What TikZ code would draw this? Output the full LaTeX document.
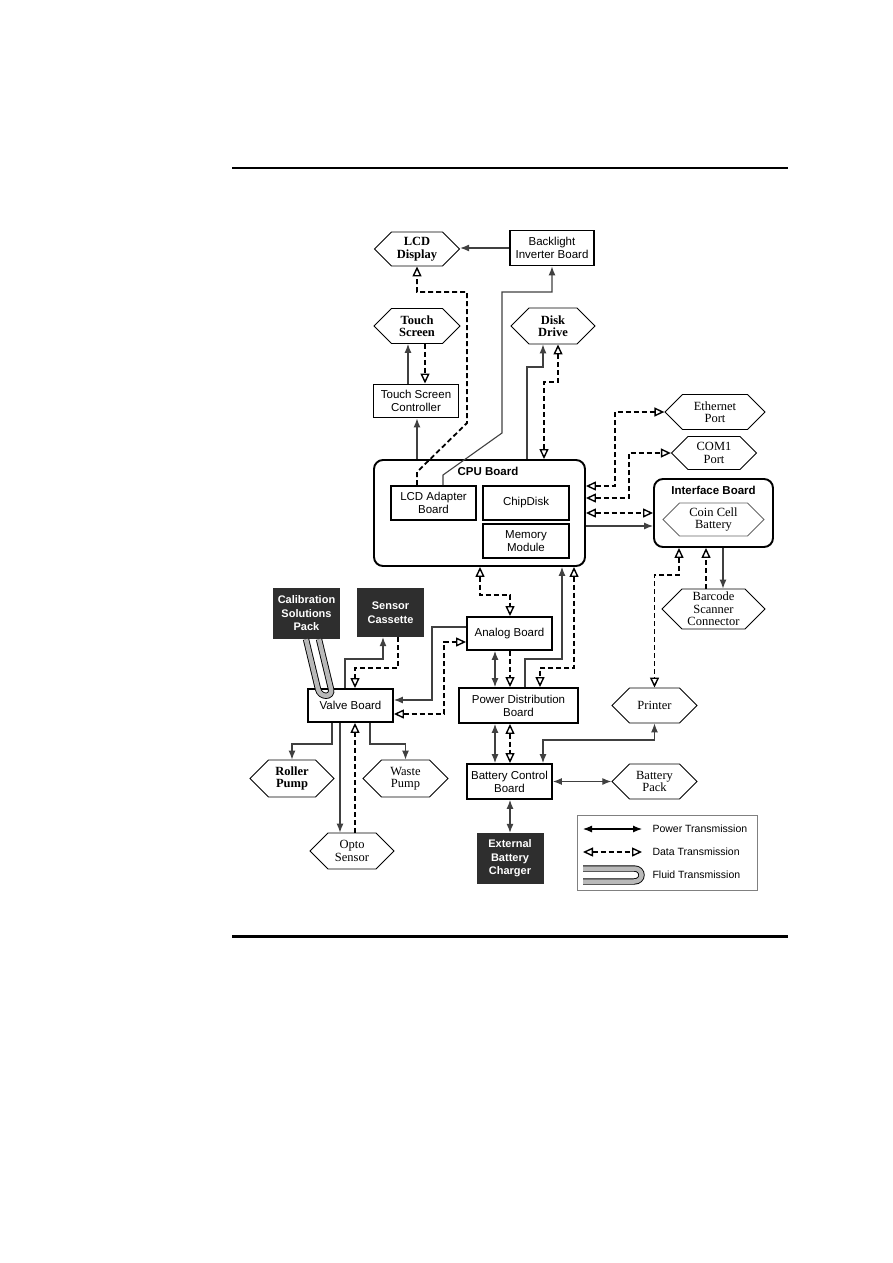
\documentclass[tikz,border=0pt]{standalone}
\usepackage{fontspec}
\setmainfont{Liberation Serif}
\setsansfont{Liberation Sans}
\usetikzlibrary{arrows.meta,shapes.symbols}

\begin{document}
\begin{tikzpicture}[x=1pt, y=-1pt,
  bx/.style={draw, line width=1.9pt, align=center, inner sep=1pt,
             font=\sffamily\fontsize{11.5}{13}\selectfont},
  rb/.style={draw, line width=1.9pt, rounded corners=9pt},
  hx/.style={draw, line width=0.9pt, shape=signal, signal to=west and east,
             signal pointer angle=90, align=center, inner sep=1pt,
             font=\fontsize{12.5}{12.5}\selectfont},
  hxb/.style={hx, font=\bfseries\fontsize{12.5}{12.5}\selectfont},
  blk/.style={fill=black!82, text=white, align=center, minimum width=67pt,
              minimum height=50pt, font=\sffamily\bfseries\fontsize{11}{13.5}\selectfont},
  ttl/.style={font=\sffamily\bfseries\fontsize{11.5}{13}\selectfont},
  lgt/.style={anchor=west, font=\sffamily\fontsize{10.5}{12}\selectfont},
  pw/.style={draw=black!75, line width=1.1pt},
  dt/.style={draw=black, line width=1.8pt, dash pattern=on 5pt off 3pt},
  pw1/.style={pw, -{Latex[length=9pt,width=7pt]}},
  pw2/.style={pw, {Latex[length=9pt,width=7pt]}-{Latex[length=9pt,width=7pt]}},
  dt1/.style={dt, -{Triangle[open,length=10pt,width=9pt,line width=1.4pt]}},
  dt2/.style={dt, {Triangle[open,length=10pt,width=9pt,line width=1.4pt]}-{Triangle[open,length=10pt,width=9pt,line width=1.4pt]}},
  tube/.style={line width=0.9pt, double=gray!55, double distance=4.5pt}
]
  \useasboundingbox (0,0) rectangle (893,1263);
  \draw[line width=1.5pt] (232,168) -- (788,168);
  \draw[line width=3pt] (232,936) -- (788,936);

  \node[hxb, minimum width=85pt, minimum height=34pt] (lcd) at (417,249) {LCD\\Display};
  \node[bx, minimum width=84pt, minimum height=35pt] (bli) at (552,248) {Backlight\\Inverter Board};
  \node[hxb, minimum width=86pt, minimum height=35pt] (ts) at (417,326) {Touch\\Screen};
  \node[hxb, minimum width=84pt, minimum height=36pt] (dd) at (553,326) {Disk\\Drive};
  \node[bx, minimum width=85pt, minimum height=33pt] (tsc) at (416,401) {Touch Screen\\Controller};
  \node[hx, minimum width=100pt, minimum height=35pt] (eth) at (715,412) {Ethernet\\Port};
  \node[hx, minimum width=85pt, minimum height=33pt] (com) at (714,453) {COM1\\Port};

  \node[rb, minimum width=211pt, minimum height=106pt] (cpu) at (479.5,513) {};
  \node[ttl] (cpulbl) at (488,471) {CPU Board};
  \node[bx, minimum width=85pt, minimum height=34pt] (lad) at (433.5,503) {LCD Adapter\\Board};
  \node[bx, minimum width=86pt, minimum height=34pt] (chip) at (526,503) {ChipDisk};
  \node[bx, minimum width=86pt, minimum height=34pt] (mem) at (526,541) {Memory\\Module};

  \node[rb, minimum width=119pt, minimum height=68pt] (ifb) at (713.5,513) {};
  \node[ttl] (ifblbl) at (713.5,490) {Interface Board};
  \node[hx, draw=black!60, minimum width=101pt, minimum height=33pt] (ccb) at (713.5,519.5) {Coin Cell\\Battery};
  \node[hx, minimum width=103pt, minimum height=40pt] (bsc) at (713.5,609) {Barcode\\Scanner\\Connector};

  \node[blk, minimum height=51pt] (cal) at (306.5,613.5) {Calibration\\Solutions\\Pack};
  \node[blk, minimum height=49pt] (sen) at (390.5,612.5) {Sensor\\Cassette};
  \node[bx, minimum width=85pt, minimum height=33pt] (ana) at (509.5,633.5) {Analog Board};
  \node[bx, minimum width=85pt, minimum height=33pt] (vlv) at (350.5,705.5) {Valve Board};
  \node[bx, minimum width=119pt, minimum height=35pt] (pdb) at (518.5,705.5) {Power Distribution\\Board};
  \node[hx, minimum width=85pt, minimum height=35pt] (prn) at (654.5,705.5) {Printer};
  \node[hxb, minimum width=84pt, minimum height=37pt] (rol) at (292,778.5) {Roller\\Pump};
  \node[hx, minimum width=85pt, minimum height=37pt] (wst) at (405.5,778.5) {Waste\\Pump};
  \node[bx, minimum width=85pt, minimum height=35pt] (bcb) at (509.5,781.5) {Battery Control\\Board};
  \node[hx, minimum width=85pt, minimum height=35pt] (bat) at (654.5,781.5) {Battery\\Pack};
  \node[hx, minimum width=84pt, minimum height=36pt] (opt) at (352,851) {Opto\\Sensor};
  \node[blk, minimum height=51pt] (ext) at (510,858.5) {External\\Battery\\Charger};

  \draw[pw1] (bli.west) -- (bli.west -| lcd.east);
  \draw[pw1] (443,0 |- lad.north) -- (443,475) -- (502,433) -- (502,292) -| (bli.south);
  \draw[dt1] (417,0 |- lad.north) -- (417,472) -- (467,423) -- (467,292) -| (lcd.south);
  \draw[pw1] (408,0 |- tsc.north) -- (408,0 |- ts.south);
  \draw[dt1] (425,0 |- ts.south) -- (425,0 |- tsc.north);
  \draw[pw1] (417,0 |- cpu.north) -- (417,0 |- tsc.south);
  \draw[pw1] (527,0 |- cpu.north) |- (543,367) -- (543,0 |- dd.south);
  \draw[dt2] (558,0 |- dd.south) |- (544,382) -- (544,0 |- cpu.north);

  \draw[dt2] (cpu.east |- 0,486) -| (615,0 |- eth.west) -- (eth.west);
  \draw[dt2] (cpu.east |- 0,498) -| (629,0 |- com.west) -- (com.west);
  \draw[dt2] (cpu.east |- 0,513) -- (ifb.west |- 0,513);
  \draw[pw1] (cpu.east |- 0,526) -- (ifb.west |- 0,526);
  \draw[pw1] (723,0 |- ifb.south) -- (723,0 |- bsc.north);
  \draw[dt1] (706,0 |- bsc.north) -- (706,0 |- ifb.south);
  \draw[dt2] (679,0 |- ifb.south) |- (654.5,575) -- (prn.north);

  \draw[dt2] (480,0 |- cpu.south) |- (510,595) -- (510,0 |- ana.north);
  \draw[pw1] (525,0 |- pdb.north) |- (562,659) -- (562,0 |- cpu.south);
  \draw[dt2] (574,0 |- cpu.south) |- (540,668) -- (540,0 |- pdb.north);
  \draw[pw2] (495,0 |- ana.south) -- (495,0 |- pdb.north);
  \draw[dt1] (510,0 |- ana.south) -- (510,0 |- pdb.north);

  \draw[pw1] (ana.west |- 0,627) -| (432,700) -- (vlv.east |- 0,700);
  \draw[dt2] (vlv.east |- 0,714) -| (444,642) -- (ana.west |- 0,642);
  \draw[pw1] (345,0 |- vlv.north) |- (383,659) -- (383,0 |- sen.south);
  \draw[dt1] (398,0 |- sen.south) |- (355,668) -- (355,0 |- vlv.north);
  \draw[pw1] (332,0 |- vlv.south) |- (rol.north |- 0,744) -- (rol.north);
  \draw[pw1] (370,0 |- vlv.south) |- (wst.north |- 0,744) -- (wst.north);
  \draw[pw1] (340,0 |- vlv.south) -- (340,0 |- opt.north);
  \draw[dt1] (355,0 |- opt.north) -- (355,0 |- vlv.south);

  \draw[pw2] (495,0 |- pdb.south) -- (495,0 |- bcb.north);
  \draw[dt2] (510,0 |- pdb.south) -- (510,0 |- bcb.north);
  \draw[pw2] (prn.south) |- (543,740) -- (543,0 |- bcb.north);
  \draw[pw2] (bcb.east) -- (bat.west);
  \draw[pw2] (510,0 |- bcb.south) -- (ext.north);

  \draw[tube] (306,0 |- cal.south) -- (318,689) .. controls (320,698) and (333,698) .. (331,689) -- (319,0 |- cal.south);

  \node[draw=black!50, line width=0.6pt, minimum width=180pt, minimum height=75pt] (leg) at (667,852.5) {};
  \coordinate (pa) at (583,829);
  \coordinate (pb) at (642,829);
  \coordinate (da) at (583,852);
  \coordinate (db) at (642,852);
  \draw[pw2, draw=black] (pa) -- (pb);
  \draw[dt2] (da) -- (db);
  \draw[tube] (583,868.5) -- (634,868.5) .. controls (644,868.5) and (644,881.5) .. (634,881.5) -- (583,881.5);
  \node[lgt] (lpw) at (649,829) {Power Transmission};
  \node[lgt] (ldt) at (649,852) {Data Transmission};
  \node[lgt] (lfl) at (649,875) {Fluid Transmission};
\end{tikzpicture}
\end{document}
